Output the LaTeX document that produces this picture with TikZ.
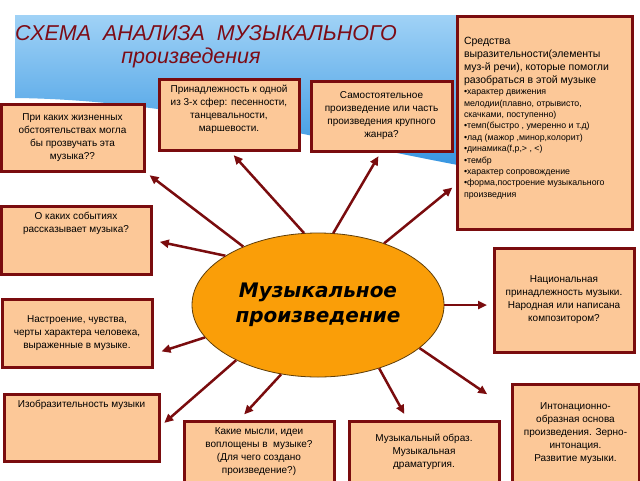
\documentclass[tikz,border=0pt]{standalone}
\usepackage{fontspec}
\setmainfont{Liberation Sans}
\newfontfamily\centrefont{DejaVu Sans}
\usetikzlibrary{shapes.geometric,arrows.meta}
\definecolor{boxred}{RGB}{122,12,14}
\definecolor{boxfill}{RGB}{252,200,152}
\definecolor{sunfill}{RGB}{250,158,8}
\definecolor{sunline}{RGB}{95,62,10}
\definecolor{titlered}{RGB}{125,12,22}
\definecolor{skytop}{RGB}{38,140,222}
\definecolor{skylow}{RGB}{160,210,246}
\tikzset{
  qbox/.style={draw=boxred,fill=boxfill,line width=3pt,rectangle,anchor=north west,
    inner sep=2pt,outer sep=0pt,align=center,font=\fontsize{10}{13}\selectfont},
  ray/.style={draw=boxred,line width=2.5pt,-{Triangle[length=9pt,width=8pt]}},
  heading/.style={text=titlered,anchor=base,font=\fontsize{21.5}{24}\selectfont\itshape},
  sun/.style={draw=sunline,fill=sunfill,ellipse,line width=0.8pt,minimum width=252,
    minimum height=144,inner sep=0pt,align=center,
    font=\centrefont\fontsize{20}{25}\selectfont\bfseries\itshape}
}
\newcommand{\topText}[3]{\parbox[c][#2][t]{#1}{\centering #3}}

\begin{document}
\begin{tikzpicture}[x=1pt,y=-1pt]

  \path[use as bounding box,fill=white] (0,0) rectangle (640,480);

  %sky
  \shade[top color=skylow,bottom color=skytop] (15,15) -- (622,15) -- (622,190)
    .. controls (420,170) and (220,100) .. (15,98) -- cycle;

  %title
  \node[heading] (head1) at (206,40) {СХЕМА\ \ АНАЛИЗА\ \ МУЗЫКАЛЬНОГО};
  \node[heading] (head2) at (191,63) {произведения};

  %boxes
  \node[qbox,minimum width=175,minimum height=213,inner xsep=7pt,inner ysep=0pt] (means) at (457,16)
    {\parbox[c][213pt][t]{161pt}{\raggedright\vspace*{21pt}%
     {\fontsize{10.5}{13}\selectfont Средства\\выразительности(элементы\\муз-й речи), которые помогли\\разобраться в этой музыке\par}
     {\fontsize{8.8}{11.4}\selectfont •характер движения\\мелодии(плавно, отрывисто,\\скачками, поступенно)\\
     •темп(быстро , умеренно и т.д)\\•лад (мажор ,минор,колорит)\\•динамика(f,p,> , <)\\•тембр\\
     •характер сопровождение\\•форма,построение музыкального\\произведния\par}}};

  \node[qbox,inner ysep=6pt] (sphere) at (159,79)
    {\topText{136pt}{59pt}{Принадлежность к одной\\из 3-х сфер: песенности,\\танцевальности,\\маршевости.}};
  \node[qbox,minimum width=141,minimum height=70] (genre) at (311,81)
    {Самостоятельное\\произведение или часть\\произведения крупного\\жанра?};
  \node[qbox,minimum width=143,minimum height=67] (occasion) at (1,104)
    {При каких жизненных\\обстоятельствах могла\\бы прозвучать эта\\музыка??};
  \node[qbox,inner ysep=6pt] (events) at (1,206)
    {\topText{146pt}{56pt}{О каких событиях\\рассказывает музыка?}};
  \node[qbox,minimum width=150,minimum height=68] (mood) at (2,299)
    {Настроение, чувства,\\черты характера человека,\\выраженные в музыке.};
  \node[qbox,inner ysep=6pt] (imagery) at (4,394)
    {\topText{151pt}{55pt}{Изобразительность музыки}};
  \node[qbox,minimum width=150,minimum height=62] (ideas) at (184,421)
    {Какие мысли, идеи\\воплощены в\ \ музыке?\\(Для чего создано\\произведение?)};
  \node[qbox,minimum width=150,minimum height=62] (image) at (349,421)
    {Музыкальный образ.\\Музыкальная\\драматургия.};
  \node[qbox,minimum width=140,minimum height=104] (nation) at (494,248)
    {Национальная\\принадлежность музыки.\\Народная или написана\\композитором?};
  \node[qbox,minimum width=127,minimum height=98] (intonation) at (512,384)
    {Интонационно-\\образная основа\\произведения. Зерно-\\интонация.\\Развитие музыки.};

  %centre
  \node[sun] (work) at (318,305) {Музыкальное\\произведение};

  %rays
  \draw[ray,shorten >=7pt] (work.142) -- (occasion.south east);
  \draw[ray,shorten >=7pt] (work.101) -- (sphere.south);
  \draw[ray,shorten >=6pt] (work.78) -- (genre.south);
  \draw[ray,shorten >=6pt] (work.43) -- (means.215);
  \draw[ray,shorten >=9pt] (work.152) -- (events.east);
  \draw[ray,shorten >=7pt] (work.east) -- (work.east -| nation.west);
  \draw[ray,shorten >=10pt] (work.196) -- (mood.344);
  \draw[ray,shorten >=7pt] (work.214) -- (imagery.east);
  \draw[ray,shorten >=9pt] (work.242) -- (ideas.124);
  \draw[ray,shorten >=8pt] (work.314) -- (image.117);
  \draw[ray,shorten >=30pt] (work.337) -- (intonation.161);

\end{tikzpicture}
\end{document}
